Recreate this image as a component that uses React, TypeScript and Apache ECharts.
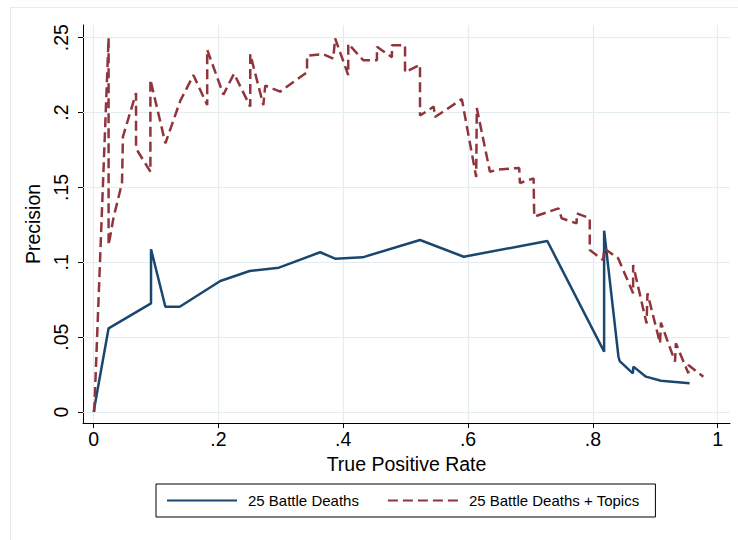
import React, { useEffect, useRef } from "react";
import * as echarts from "echarts";

const xTicks = [0, 0.2, 0.4, 0.6, 0.8, 1];
const yTicks = [0, 0.05, 0.1, 0.15, 0.2, 0.25];

const blueName = "25 Battle Deaths";
const blueX = [0, 0.024, 0.092, 0.092, 0.115, 0.138, 0.203, 0.25, 0.297, 0.363, 0.387, 0.431, 0.523, 0.593, 0.727, 0.818, 0.818, 0.841, 0.843, 0.864, 0.865, 0.885, 0.909, 0.955];
const blueY = [0, 0.0559, 0.0726, 0.1087, 0.0703, 0.0703, 0.0875, 0.0942, 0.0964, 0.1067, 0.1024, 0.1033, 0.1149, 0.1037, 0.1142, 0.0403, 0.1211, 0.0369, 0.034, 0.0258, 0.0303, 0.0236, 0.0209, 0.0192];

const redName = "25 Battle Deaths + Topics";
const redX = [0.001, 0.024, 0.024, 0.032, 0.0455, 0.047, 0.068, 0.068, 0.091, 0.091, 0.115, 0.139, 0.16, 0.182, 0.182, 0.208, 0.225, 0.251, 0.251, 0.272, 0.275, 0.299, 0.342, 0.342, 0.368, 0.384, 0.387, 0.408, 0.408, 0.432, 0.454, 0.454, 0.478, 0.478, 0.499, 0.499, 0.523, 0.523, 0.545, 0.547, 0.59, 0.613, 0.614, 0.635, 0.649, 0.682, 0.683, 0.705, 0.706, 0.745, 0.75, 0.774, 0.774, 0.795, 0.795, 0.8165, 0.818, 0.8405, 0.8645, 0.8645, 0.886, 0.8875, 0.9076, 0.909, 0.9316, 0.933, 0.953, 0.953, 0.977];
const redY = [0, 0.25, 0.1115, 0.13, 0.153, 0.184, 0.213, 0.176, 0.1605, 0.222, 0.1795, 0.208, 0.225, 0.205, 0.242, 0.212, 0.226, 0.204, 0.239, 0.205, 0.218, 0.214, 0.227, 0.238, 0.239, 0.236, 0.2496, 0.225, 0.246, 0.235, 0.235, 0.244, 0.237, 0.245, 0.245, 0.227, 0.232, 0.198, 0.204, 0.197, 0.209, 0.157, 0.203, 0.1605, 0.162, 0.163, 0.153, 0.156, 0.1305, 0.136, 0.1294, 0.126, 0.1327, 0.1294, 0.1082, 0.1015, 0.1093, 0.1027, 0.0793, 0.0982, 0.0592, 0.0793, 0.0459, 0.0597, 0.0336, 0.0459, 0.0258, 0.0314, 0.0236];

const FONT = "'Liberation Sans', Arial, Helvetica, sans-serif";
const BLUE = "#1a476f";
const RED = "#90353b";
const GRID = "#e3ecef";
const AXIS_FS = 19.5;

const fmt = (v: number) => (v === 0 ? "0" : String(v).replace(/^0\./, "."));

export default function App() {
  const ref = useRef<HTMLDivElement>(null);
  useEffect(() => {
    if (!ref.current) return;
    const chart = echarts.init(ref.current, null, { renderer: "svg" });
    const zip = (xs: number[], ys: number[]) => xs.map((x, i) => [x, ys[i]]);
    chart.setOption({
      animation: false,
      backgroundColor: "#ffffff",
      textStyle: { fontFamily: FONT },
      graphic: [
        {
          type: "rect",
          shape: { x: 10.5, y: 7.5, width: 760, height: 560 },
          style: { fill: "none", stroke: "#e6edf0", lineWidth: 1 },
          silent: true,
          z: -1,
        },
      ],
      grid: {
        left: 83,
        right: 8,
        top: 25,
        bottom: 117,
        containLabel: false,
        outerBoundsMode: "none",
      },
      legend: {
        data: [blueName, redName],
        left: 156,
        top: 484,
        orient: "horizontal",
        itemWidth: 70,
        itemHeight: 14,
        itemGap: 28,
        padding: [9, 16, 9, 10],
        borderColor: "#000000",
        borderWidth: 1,
        borderRadius: 0,
        itemStyle: { opacity: 0 },
        textStyle: { fontFamily: FONT, fontSize: 15, color: "#000", padding: [0, 0, 0, 6] },
      },
      xAxis: {
        type: "value",
        min: -0.017,
        max: 1.0197,
        name: "True Positive Rate",
        nameLocation: "middle",
        nameGap: 30,
        nameTextStyle: { fontFamily: FONT, fontSize: AXIS_FS, color: "#000" },
        axisLine: { show: true, onZero: false, lineStyle: { color: "#000", width: 1 } },
        axisTick: { show: true, length: 5, customValues: xTicks, lineStyle: { color: "#000" } },
        axisLabel: {
          customValues: xTicks,
          formatter: fmt,
          fontFamily: FONT,
          fontSize: AXIS_FS,
          color: "#000",
          margin: 6,
        },
        splitLine: { show: false },
      },
      yAxis: {
        type: "value",
        min: -0.00735,
        max: 0.2585,
        name: "Precision",
        nameLocation: "middle",
        nameGap: 33,
        nameTextStyle: { fontFamily: FONT, fontSize: AXIS_FS, color: "#000" },
        axisLine: { show: true, onZero: false, lineStyle: { color: "#000", width: 1 } },
        axisTick: { show: true, length: 5, customValues: yTicks, lineStyle: { color: "#000" } },
        axisLabel: {
          customValues: yTicks,
          formatter: fmt,
          rotate: 90,
          fontFamily: FONT,
          fontSize: AXIS_FS,
          color: "#000",
          margin: 12,
        },
        splitLine: { show: false },
      },
      series: [
        {
          name: "gridlines",
          type: "line",
          data: [],
          z: 1,
          silent: true,
          markLine: {
            silent: true,
            symbol: "none",
            z: 1,
            label: { show: false },
            emphasis: { disabled: true },
            lineStyle: { color: GRID, width: 1.2, type: "solid" },
            data: [
              ...xTicks.map((v) => ({ xAxis: v })),
              ...yTicks.map((v) => ({ yAxis: v })),
            ],
          },
        },
        {
          name: blueName,
          type: "line",
          data: zip(blueX, blueY),
          showSymbol: false,
          symbol: "none",
          z: 3,
          color: BLUE,
          lineStyle: { color: BLUE, width: 2.5, type: "solid" },
        },
        {
          name: redName,
          type: "line",
          data: zip(redX, redY),
          showSymbol: false,
          symbol: "none",
          z: 4,
          color: RED,
          lineStyle: { color: RED, width: 2.5, type: [10, 5] },
        },
      ],
    });
    return () => chart.dispose();
  }, []);
  return (
    <div
      ref={ref}
      style={{ position: "fixed", left: 0, top: 0, width: 738, height: 540, background: "#fff" }}
    />
  );
}
